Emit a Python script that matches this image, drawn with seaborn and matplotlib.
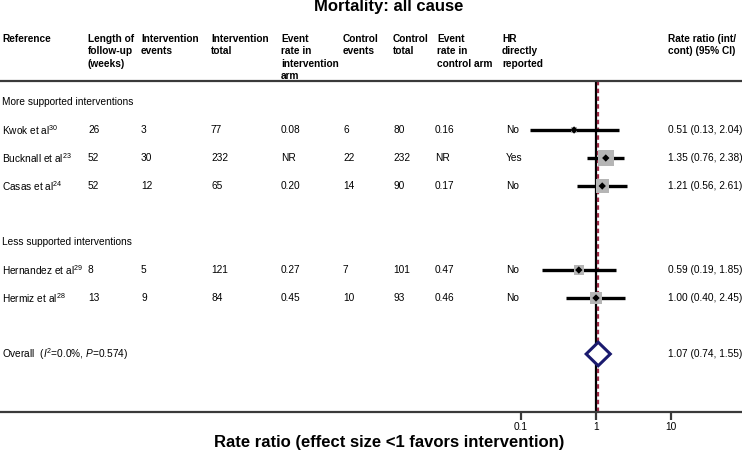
import matplotlib
matplotlib.use("Agg")
import matplotlib.pyplot as plt
import matplotlib.transforms as mtransforms
import numpy as np
import pandas as pd
import seaborn as sns

# ---- data ----
studies = ["Kwok et al$^{30}$", "Bucknall et al$^{23}$", "Casas et al$^{24}$",
           "Hernandez et al$^{29}$", "Hermiz et al$^{28}$"]
groups = ["More supported interventions", "More supported interventions",
          "More supported interventions", "Less supported interventions",
          "Less supported interventions"]
follow_up = ["26", "52", "52", "8", "13"]
int_events = ["3", "30", "12", "5", "9"]
int_total = ["77", "232", "65", "121", "84"]
int_rate = ["0.08", "NR", "0.20", "0.27", "0.45"]
ctl_events = ["6", "22", "14", "7", "10"]
ctl_total = ["80", "232", "90", "101", "93"]
ctl_rate = ["0.16", "NR", "0.17", "0.47", "0.46"]
hr_reported = ["No", "Yes", "No", "No", "No"]
rr = [0.51, 1.35, 1.21, 0.59, 1.00]
rr_lo = [0.13, 0.76, 0.56, 0.19, 0.40]
rr_hi = [2.04, 2.38, 2.61, 1.85, 2.45]
weight = [5, 36, 24, 14, 21]  # % weight, estimated from square areas

overall_label = r"Overall  ($\mathit{I}^2$=0.0%, $\mathit{P}$=0.574)"
overall_rr, overall_lo, overall_hi = 1.07, 0.74, 1.55

headers = ["Reference", "Length of\nfollow-up\n(weeks)", "Intervention\nevents",
           "Intervention\ntotal", "Event\nrate in\nintervention\narm",
           "Control\nevents", "Control\ntotal", "Event\nrate in\ncontrol arm",
           "HR\ndirectly\nreported", "Rate ratio (int/\ncont) (95% CI)"]
xticks = [0.1, 1, 10]
xtick_labels = ["0.1", "1", "10"]

# ---- layout (pixels) ----
W, H = 742, 453
col_px = [2, 88, 141, 211, 281, 343, 393, 437, 502, 668]
data_col_px = [2, 88, 141, 211, 281, 343, 393, 435, 506, 668]
ROW0, ROWH = 102, 28          # first row centre, row pitch
TOP, BOT = 81, 412            # header rule, axis line

sns.set_theme(style="white")
plt.rcParams["font.family"] = ["Liberation Sans", "DejaVu Sans"]
plt.rcParams["text.color"] = "black"
plt.rcParams["xtick.color"] = "black"
plt.rcParams["axes.labelcolor"] = "black"
plt.rcParams["mathtext.fontset"] = "custom"
plt.rcParams["mathtext.rm"] = "Liberation Sans"
plt.rcParams["mathtext.it"] = "Liberation Sans:italic"
plt.rcParams["mathtext.bf"] = "Liberation Sans:bold"

fig = plt.figure(figsize=(W / 100, H / 100), dpi=100)
ax = fig.add_axes([0, (H - BOT) / H, 1, (BOT - TOP) / H])


def px2row(y):
    return (y - ROW0) / ROWH


# rows: section header, studies, blank, section header, studies, blank, overall
df = pd.DataFrame(dict(study=studies, group=groups, rr=rr, lo=rr_lo, hi=rr_hi, w=weight))
rows, section_rows, r = [], {}, 0
for g in pd.unique(df["group"]):
    section_rows[g] = r
    r += 1
    for i in df.index[df["group"] == g]:
        rows.append(r)
        r += 1
    r += 1
df["row"] = rows
overall_row = r

ax.set_xscale("log")
x_one = 596
ax.set_xlim(10 ** (-x_one / 75), 10 ** ((W - x_one) / 75))
ax.set_ylim(px2row(BOT), px2row(TOP))

# reference lines
ax.axvline(1, color="black", lw=1.6, zorder=2)
ax.axvline(overall_rr, color="#9c2a45", lw=1.6, ls=(0, (2, 1.5)), zorder=2)

# CIs
ax.hlines(df["row"], df["lo"], df["hi"], color="black", lw=2.4, zorder=3)
# weight squares
side_px = 16 * np.sqrt(df["w"] / 36)
sns.scatterplot(data=df, x="rr", y="row", marker="s", s=(side_px * 0.72) ** 2,
                color="#b5b5b5", edgecolor="none", ax=ax, zorder=4, legend=False)
sns.scatterplot(data=df, x="rr", y="row", marker="D", s=14,
                color="black", edgecolor="none", ax=ax, zorder=5, legend=False)

# overall diamond
dh = 0.42
ax.fill([overall_lo, overall_rr, overall_hi, overall_rr],
        [overall_row, overall_row - dh, overall_row, overall_row + dh],
        facecolor="white", edgecolor="#1a1a6e", lw=2.2, zorder=6)

# text columns
trans = mtransforms.blended_transform_factory(ax.transAxes, ax.transData)
fs = 7.3
for txt, px in zip(headers, col_px):
    for k, line in enumerate(txt.split("\n")):
        ax.text(px / W, px2row(42 + 12.4 * k), line, transform=trans, fontsize=fs,
                fontweight="bold", va="baseline", ha="left")

for g, sr in section_rows.items():
    ax.text(2 / W, sr, g, transform=trans, fontsize=fs, va="center")

cols = [studies, follow_up, int_events, int_total, int_rate, ctl_events,
        ctl_total, ctl_rate, hr_reported,
        [f"{a:.2f} ({b:.2f}, {c:.2f})" for a, b, c in zip(rr, rr_lo, rr_hi)]]
for vals, px in zip(cols, data_col_px):
    for v, row in zip(vals, df["row"]):
        ax.text(px / W, row, v, transform=trans, fontsize=fs, va="center")

ax.text(2 / W, overall_row, overall_label, transform=trans, fontsize=fs, va="center")
ax.text(668 / W, overall_row, f"{overall_rr:.2f} ({overall_lo:.2f}, {overall_hi:.2f})",
        transform=trans, fontsize=fs, va="center")

# axes styling
for s in ["left", "right"]:
    ax.spines[s].set_visible(False)
for s in ["top", "bottom"]:
    ax.spines[s].set_color("#3a3a3a")
    ax.spines[s].set_linewidth(1.6)
ax.set_yticks([])
ax.set_xticks(xticks)
ax.set_xticklabels(xtick_labels)
ax.minorticks_off()
ax.tick_params(axis="x", direction="out", length=6, width=1.6, color="#3a3a3a",
               labelsize=fs, pad=1, bottom=True)
ax.set_xlabel("Rate ratio (effect size <1 favors intervention)", fontsize=12,
              fontweight="bold")
ax.xaxis.set_label_coords(389 / W, -(442 - BOT) / (BOT - TOP))
ax.xaxis.label.set_va("center")
ax.set_ylabel("")

fig.text(389 / W, 1 - 7 / H, "Mortality: all cause", fontsize=12, fontweight="bold",
         ha="center", va="center")

fig.savefig("out.png", dpi=100)
